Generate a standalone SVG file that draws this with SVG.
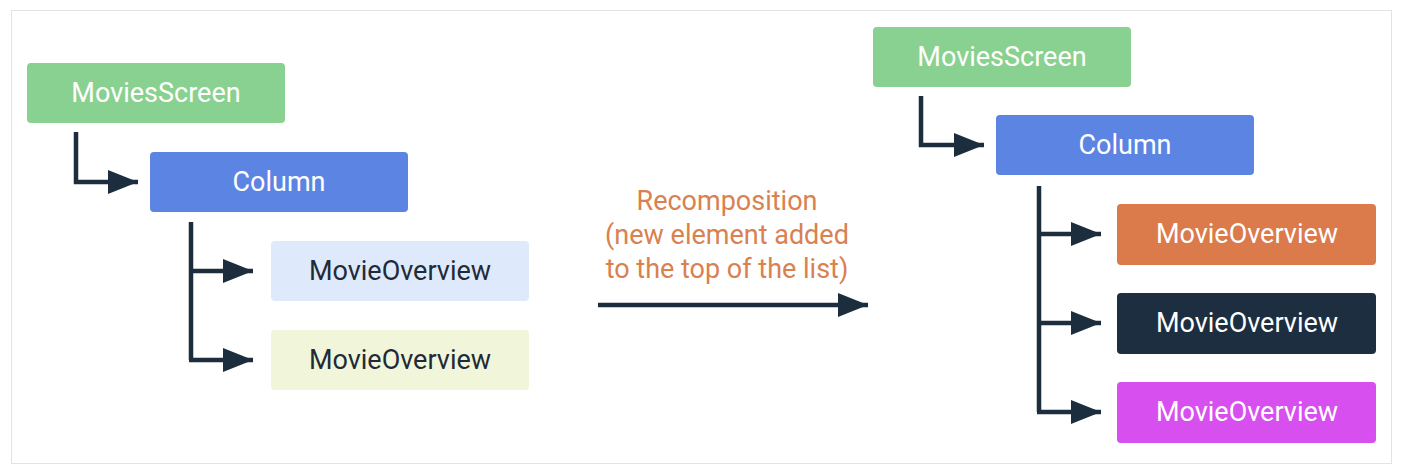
<svg xmlns="http://www.w3.org/2000/svg" width="1408" height="470" viewBox="0 0 1408 470">
<defs>
<style>
.box{stroke:none}
.lbl{font-family:Roboto,"Liberation Sans",sans-serif;font-size:27px;text-anchor:middle;dominant-baseline:central}
.w{fill:#ffffff}
.d{fill:#1f2b38}
.con{fill:none;stroke:#1c2d3e;stroke-width:4.5}
.arr{marker-end:url(#ah)}
.note{font-family:Roboto,"Liberation Sans",sans-serif;font-size:27px;text-anchor:middle;fill:#d9814f}
</style>
<marker id="ah" markerUnits="userSpaceOnUse" markerWidth="30" markerHeight="24" refX="30" refY="12" orient="auto">
<path d="M0,0 L30,12 L0,24 z" fill="#1c2d3e"/>
</marker>
</defs>
<rect x="0" y="0" width="1408" height="470" fill="#ffffff"/>
<rect x="11.5" y="10.5" width="1380" height="453" fill="#ffffff" stroke="#e3e3e3" stroke-width="1"/>

<g id="connectors">
<path class="con arr" d="M76,132 V182 H138"/>
<path class="con" d="M191,222 V360"/>
<path class="con arr" d="M189,271 H253"/>
<path class="con arr" d="M189,360 H253"/>
<path class="con arr" d="M598,305 H868"/>
<path class="con arr" d="M921,96 V145 H984"/>
<path class="con" d="M1039,186 V412"/>
<path class="con arr" d="M1037,234 H1101"/>
<path class="con arr" d="M1037,323 H1101"/>
<path class="con arr" d="M1037,412 H1101"/>
</g>

<g id="left-moviesscreen">
<rect class="box" x="27" y="63" width="258" height="60" rx="4" fill="#89d190"/>
<text class="lbl w" x="156" y="93">MoviesScreen</text>
</g>
<g id="left-column">
<rect class="box" x="150" y="152" width="258" height="60" rx="4" fill="#5b84e3"/>
<text class="lbl w" x="279" y="182">Column</text>
</g>
<g id="left-movieoverview-1">
<rect class="box" x="271" y="241" width="258" height="60" rx="4" fill="#deeafb"/>
<text class="lbl d" x="400" y="271">MovieOverview</text>
</g>
<g id="left-movieoverview-2">
<rect class="box" x="271" y="330" width="258" height="60" rx="4" fill="#f1f6da"/>
<text class="lbl d" x="400" y="360">MovieOverview</text>
</g>

<g id="recomposition-label">
<text class="note" x="727" y="210">Recomposition</text>
<text class="note" x="727" y="244">(new element added</text>
<text class="note" x="727" y="278">to the top of the list)</text>
</g>

<g id="right-moviesscreen">
<rect class="box" x="873" y="27" width="258" height="60" rx="4" fill="#89d190"/>
<text class="lbl w" x="1002" y="57">MoviesScreen</text>
</g>
<g id="right-column">
<rect class="box" x="996" y="115" width="258" height="60" rx="4" fill="#5b84e3"/>
<text class="lbl w" x="1125" y="145">Column</text>
</g>
<g id="right-movieoverview-orange">
<rect class="box" x="1117" y="204" width="259" height="61" rx="4" fill="#db7a4b"/>
<text class="lbl w" x="1247" y="234">MovieOverview</text>
</g>
<g id="right-movieoverview-dark">
<rect class="box" x="1117" y="293" width="259" height="61" rx="4" fill="#1c2e40"/>
<text class="lbl w" x="1247" y="323">MovieOverview</text>
</g>
<g id="right-movieoverview-magenta">
<rect class="box" x="1117" y="382" width="259" height="61" rx="4" fill="#d84ff0"/>
<text class="lbl w" x="1247" y="412">MovieOverview</text>
</g>
</svg>
